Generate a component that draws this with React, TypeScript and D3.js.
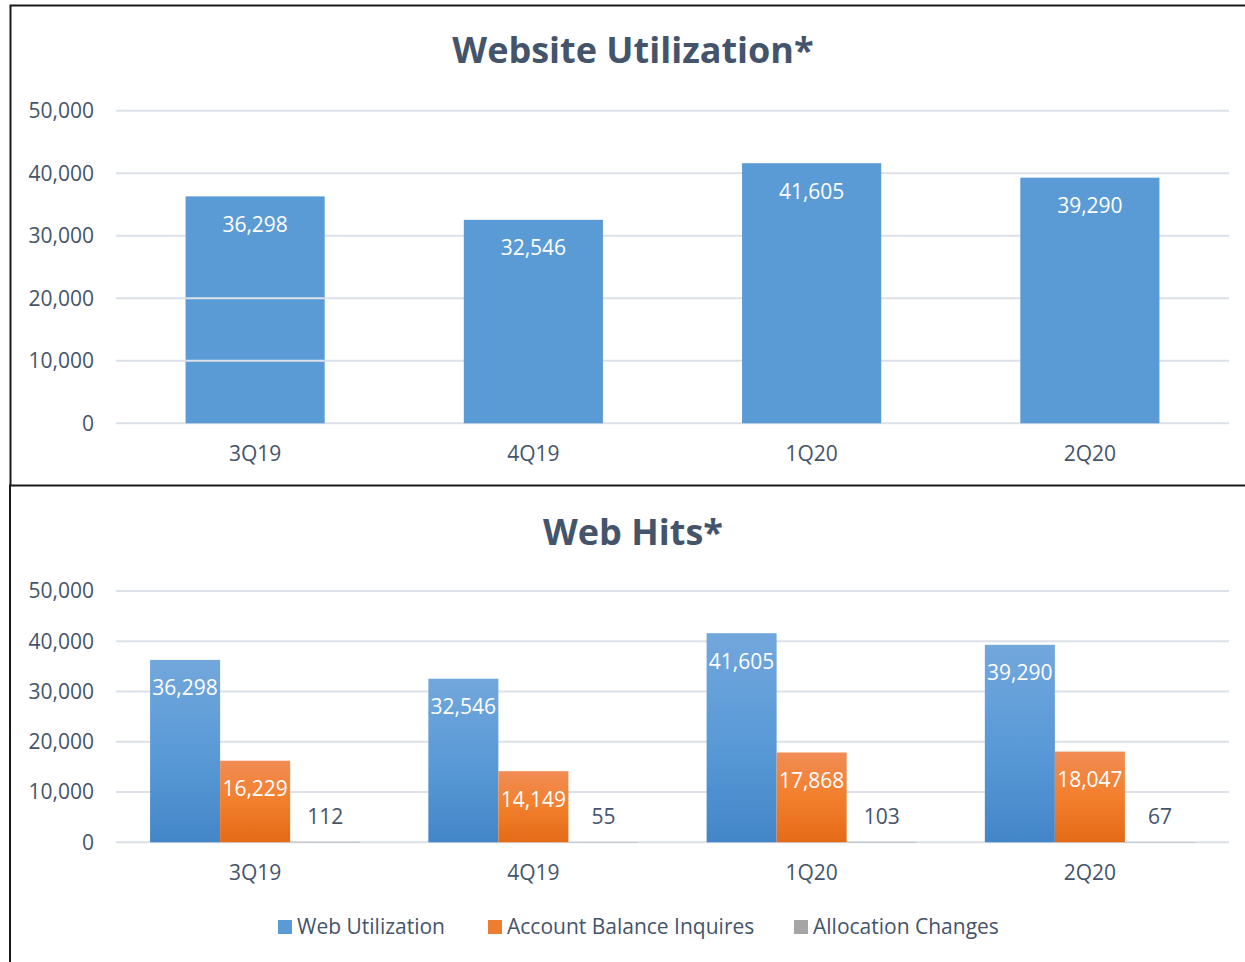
import React from "react";
import { scaleBand, scaleLinear, format } from "d3";

const categories = ["3Q19", "4Q19", "1Q20", "2Q20"];
const webUtilization = [36298, 32546, 41605, 39290];
const accountBalance = [16229, 14149, 17868, 18047];
const allocationChanges = [112, 55, 103, 67];
const yTicks = [0, 10000, 20000, 30000, 40000, 50000];
const legendLabels = ["Web Utilization", "Account Balance Inquires", "Allocation Changes"];

const width = 1245;
const height = 962;
const plotLeft = 116;
const plotRight = 1229;
const textColor = "#44546A";
const gridColor = "#DCE1E9";
const font = "'Open Sans', sans-serif";
const fmt = format(",");

function App() {
  // top chart
  const xTop = scaleBand<string>()
    .domain(categories)
    .range([plotLeft, plotRight])
    .paddingInner(0.5)
    .paddingOuter(0.25);
  const yTop = scaleLinear().domain([0, 50000]).range([423.3, 110.7]);

  // bottom chart
  const xBot = scaleBand<string>()
    .domain(categories)
    .range([plotLeft, plotRight])
    .paddingInner(0.245)
    .paddingOuter(0.1225);
  const series = ["web", "balance", "alloc"];
  const xSub = scaleBand<string>().domain(series).range([0, xBot.bandwidth()]);
  const yBot = scaleLinear().domain([0, 50000]).range([842.3, 591]);
  const seriesValues = [webUtilization, accountBalance, allocationChanges];
  const fills = ["url(#gBlue)", "url(#gOrange)", "url(#gGray)"];
  const legendFills = ["#5B9BD5", "#ED7D31", "#A5A5A5"];
  const legendX = [278, 488, 794];

  const yAxis = (y: any, key: string) =>
    yTicks.map((t) => (
      <g key={key + t}>
        <line x1={plotLeft} x2={plotRight} y1={y(t)} y2={y(t)} stroke={gridColor} strokeWidth={2} />
        <text x={94} y={y(t)} dy="0.35em" textAnchor="end" fontSize={21} fill={textColor}>
          {fmt(t)}
        </text>
      </g>
    ));

  return (
    <svg
      width={width}
      height={height}
      style={{ position: "absolute", left: 0, top: 0, display: "block", background: "#fff" }}
      fontFamily={font}
    >
      <defs>
        <linearGradient id="gBlue" x1="0" y1="0" x2="0" y2="1">
          <stop offset="0" stopColor="#72A7DC" />
          <stop offset="0.5" stopColor="#5A9AD7" />
          <stop offset="1" stopColor="#4386C8" />
        </linearGradient>
        <linearGradient id="gOrange" x1="0" y1="0" x2="0" y2="1">
          <stop offset="0" stopColor="#F18C55" />
          <stop offset="0.5" stopColor="#F27F2C" />
          <stop offset="1" stopColor="#E46A17" />
        </linearGradient>
        <linearGradient id="gGray" x1="0" y1="0" x2="0" y2="1">
          <stop offset="0" stopColor="#B5B5B5" />
          <stop offset="1" stopColor="#959595" />
        </linearGradient>
      </defs>
      <rect x={0} y={0} width={width} height={height} fill="#fff" />

      {/* top panel */}
      <text x={633} y={63.3} textAnchor="middle" fontSize={36} fontWeight="bold" fill={textColor}>
        Website Utilization*
      </text>
      {yAxis(yTop, "t")}
      {webUtilization.map((v, i) => (
        <g key={"tb" + i}>
          <rect
            x={xTop(categories[i])}
            y={yTop(v)}
            width={xTop.bandwidth()}
            height={yTop(0) - yTop(v)}
            fill="#5B9BD5"
          />
          <text
            x={(xTop(categories[i]) as number) + xTop.bandwidth() / 2}
            y={yTop(v) + 28}
            dy="0.35em"
            textAnchor="middle"
            fontSize={21}
            fill="#fff"
          >
            {fmt(v)}
          </text>
        </g>
      ))}
      {/* gridlines showing through the first bar */}
      {[10000, 20000].map((t) => (
        <line
          key={"ov" + t}
          x1={xTop(categories[0])}
          x2={(xTop(categories[0]) as number) + xTop.bandwidth()}
          y1={yTop(t)}
          y2={yTop(t)}
          stroke={gridColor}
          strokeWidth={2}
        />
      ))}
      {categories.map((c) => (
        <text
          key={"tx" + c}
          x={(xTop(c) as number) + xTop.bandwidth() / 2}
          y={454}
          dy="0.35em"
          textAnchor="middle"
          fontSize={21}
          fill={textColor}
        >
          {c}
        </text>
      ))}

      {/* bottom panel */}
      <text x={633} y={545} textAnchor="middle" fontSize={36} fontWeight="bold" fill={textColor}>
        Web Hits*
      </text>
      {yAxis(yBot, "b")}
      {categories.map((c, i) => (
        <g key={"grp" + c} transform={`translate(${xBot(c)},0)`}>
          {series.map((s, j) => {
            const v = seriesValues[j][i];
            const x = xSub(s) as number;
            const h = yBot(0) - yBot(v);
            const small = h < 40;
            return (
              <g key={s}>
                <rect x={x} y={yBot(v)} width={xSub.bandwidth()} height={h} fill={fills[j]} />
                <text
                  x={x + xSub.bandwidth() / 2}
                  y={small ? yBot(v) - 25 : yBot(v) + 28}
                  dy="0.35em"
                  textAnchor="middle"
                  fontSize={21}
                  fill={small ? textColor : "#fff"}
                >
                  {fmt(v)}
                </text>
              </g>
            );
          })}
        </g>
      ))}
      {categories.map((c) => (
        <text
          key={"bx" + c}
          x={(xBot(c) as number) + xBot.bandwidth() / 2}
          y={873}
          dy="0.35em"
          textAnchor="middle"
          fontSize={21}
          fill={textColor}
        >
          {c}
        </text>
      ))}
      {legendLabels.map((l, i) => (
        <g key={l} transform={`translate(${legendX[i]},927)`}>
          <rect x={0} y={-7} width={14} height={14} fill={legendFills[i]} />
          <text x={19} y={0} dy="0.35em" fontSize={21} fill={textColor}>
            {l}
          </text>
        </g>
      ))}

      {/* panel borders */}
      <path d={`M${width},5.5 H10.5 V485`} fill="none" stroke="#1a1a1a" strokeWidth={2} />
      <path d={`M${width},485.5 H10 V${height}`} fill="none" stroke="#1a1a1a" strokeWidth={2} />
    </svg>
  );
}

export default App;
